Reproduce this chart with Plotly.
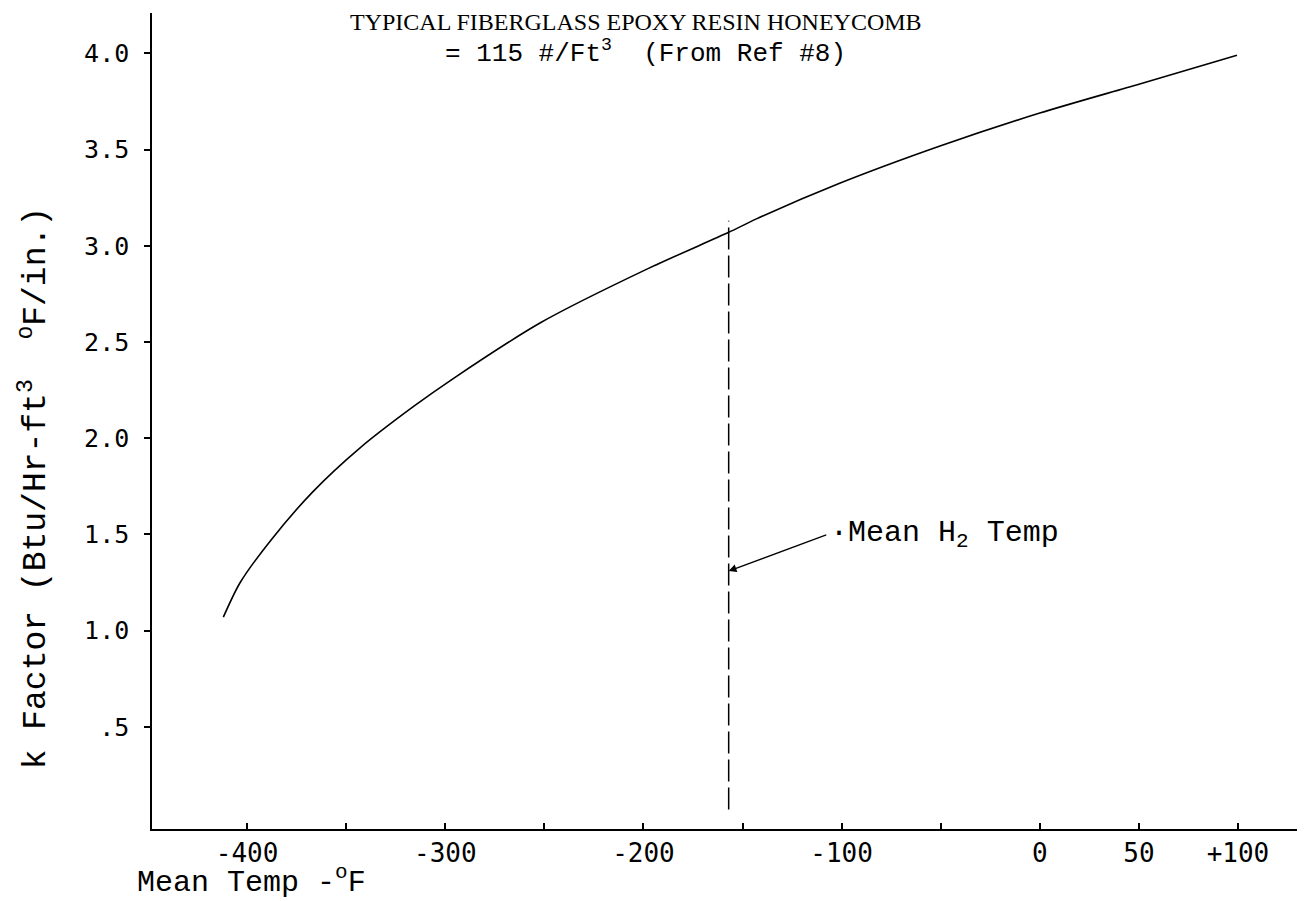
import plotly.graph_objects as go

# Curve (Mean Temp in °F, k factor)
mean_temp = [-412, -403.5, -388, -367, -343, -316, -296, -252, -198, -157, -143, -101, -50, 0, 50, 99.5]
k_factor = [1.07, 1.25, 1.47, 1.72, 1.95, 2.165, 2.31, 2.60, 2.88, 3.07, 3.14, 3.325, 3.52, 3.69, 3.84, 3.99]

# Mean H2 temperature marker line
mean_h2_temp = [-157, -157]
mean_h2_k = [0.07, 3.13]

# Tick labels
x_tickvals = [-400, -300, -200, -100, 0, 50, 100]
x_ticktext = ["-400", "-300", "-200", "-100", "0", "50", "+100"]
y_tickvals = [0.5, 1.0, 1.5, 2.0, 2.5, 3.0, 3.5, 4.0]
y_ticktext = [".5", "1.0", "1.5", "2.0", "2.5", "3.0", "3.5", "4.0"]

# Annotation arrow (tail -> head) in data units
arrow_tail = (-107, 1.50)
arrow_head = (-157, 1.31)

fig = go.Figure()
fig.add_trace(go.Scatter(x=mean_temp, y=k_factor, mode="lines", line=dict(color="black", width=1.6),
                         line_shape="spline", line_smoothing=0.8, showlegend=False, hoverinfo="skip"))
fig.add_trace(go.Scatter(x=mean_h2_temp, y=mean_h2_k, mode="lines",
                         line=dict(color="black", width=1.5, dash="22px,6px"), showlegend=False, hoverinfo="skip"))

mono = "Liberation Mono"
fig.update_layout(
    width=1297, height=893,
    margin=dict(l=144, r=5, t=5, b=72),
    paper_bgcolor="white", plot_bgcolor="white",
    xaxis=dict(range=[-448, 131.3], showgrid=False, zeroline=False, showline=True, linecolor="black", linewidth=1.5,
               ticks="inside", ticklen=6, tickcolor="black", tickwidth=1.5,
               tickvals=x_tickvals, ticktext=x_ticktext,
               minor=dict(ticks="inside", ticklen=6, tickcolor="black", tickwidth=1.5, dtick=50, tick0=0),
               tickfont=dict(family="DejaVu Sans Mono", size=26, color="black")),
    yaxis=dict(range=[-0.031, 4.21], showgrid=False, zeroline=False, showline=True, linecolor="black", linewidth=1.5,
               ticks="outside", ticklen=6, tickcolor="black", tickwidth=1.5,
               tickvals=y_tickvals, ticktext=y_ticktext, ticklabelstandoff=10,
               tickfont=dict(family="DejaVu Sans Mono", size=25, color="black")),
)

# Title lines
fig.add_annotation(x=-204, y=4.165, xref="x", yref="y", showarrow=False,
                   text="TYPICAL FIBERGLASS EPOXY RESIN HONEYCOMB",
                   font=dict(family="Liberation Serif", size=24, color="black"), xanchor="center", yanchor="middle")
fig.add_annotation(x=-199, y=4.005, xref="x", yref="y", showarrow=False,
                   text="= 115 #/Ft<sup>3</sup>  (From Ref #8)",
                   font=dict(family=mono, size=26, color="black"), xanchor="center", yanchor="middle")

# Axis titles
fig.add_annotation(x=-0.1024, y=0.418, xref="paper", yref="paper", showarrow=False, textangle=-90,
                   text="k Factor (Btu/Hr-ft<sup>3</sup>  <sup>o</sup>F/in.)",
                   font=dict(family=mono, size=33, color="black"), xanchor="center", yanchor="middle")
fig.add_annotation(x=-0.0149, y=-0.0625, xref="paper", yref="paper", showarrow=False,
                   text="Mean Temp -<sup>o</sup>F",
                   font=dict(family=mono, size=30, color="black"), xanchor="left", yanchor="middle")

# Mean H2 Temp callout
fig.add_annotation(x=arrow_head[0], y=arrow_head[1], ax=arrow_tail[0], ay=arrow_tail[1],
                   xref="x", yref="y", axref="x", ayref="y", text="", showarrow=True,
                   arrowhead=2, arrowsize=1.2, arrowwidth=1.3, arrowcolor="black")
fig.add_annotation(x=arrow_tail[0], y=arrow_tail[1], xref="x", yref="y", showarrow=False,
                   text="·Mean H<sub>2</sub> Temp",
                   font=dict(family=mono, size=30, color="black"), xanchor="left", yanchor="middle")

fig.write_html("out.html")
